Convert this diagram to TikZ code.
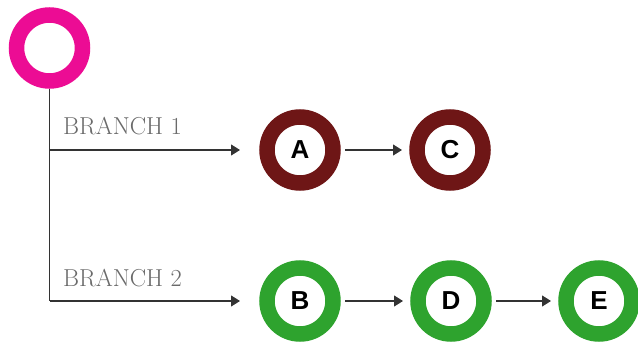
\documentclass[tikz,border=0pt]{standalone}
\usepackage{fontspec}
\newfontfamily\letterfont{Liberation Sans}
\usetikzlibrary{arrows.meta}
\definecolor{ringmag}{HTML}{EC0C94}
\definecolor{ringred}{HTML}{6E1616}
\definecolor{ringgreen}{HTML}{2EA32E}
\definecolor{labelgray}{HTML}{6A6A6A}
\definecolor{linegray}{HTML}{333333}
\tikzset{
  ring/.style={circle, draw=#1, line width=15.5pt, fill=white, minimum size=66pt, inner sep=0pt, outer sep=12pt,
    font=\letterfont\bfseries\fontsize{26}{26}\selectfont},
  conn/.style={draw=linegray, line width=1.2pt},
  arr/.style={conn, -{Triangle[length=9pt,width=11pt]}, shorten >=3pt},
  branchlabel/.style={anchor=base west, inner sep=0pt, text=labelgray, font=\fontsize{24.5}{24.5}\selectfont}
}
\begin{document}
\begin{tikzpicture}[x=1pt,y=-1pt]
\useasboundingbox (0,0) rectangle (638,342);
\node[ring=ringmag, outer sep=7.75pt] (O) at (49.5,48) {};
\node[ring=ringred] (A) at (300,150) {A};
\node[ring=ringred] (C) at (450,150) {C};
\node[ring=ringgreen] (B) at (300,301) {B};
\node[ring=ringgreen] (D) at (451,301) {D};
\node[ring=ringgreen] (E) at (599,301) {E};
\coordinate (b1) at (49.5,150);
\coordinate (b2) at (49.5,301);
\draw[conn] (O.south) -- (b2);
\draw[arr, shorten >=15pt] (b1) -- (A);
\draw[arr, shorten >=15pt] (b2) -- (B);
\draw[arr] (A) -- (C);
\draw[arr] (B) -- (D);
\draw[arr] (D) -- (E);
\node[branchlabel] (l1) at (63,135) {BRANCH 1};
\node[branchlabel] (l2) at (63,287) {BRANCH 2};
\end{tikzpicture}
\end{document}
